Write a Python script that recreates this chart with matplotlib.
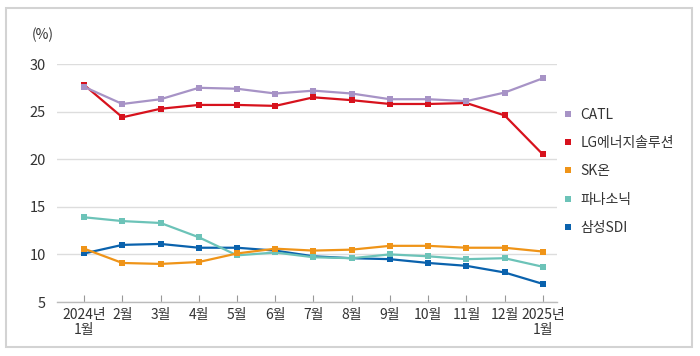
import matplotlib.pyplot as plt
from matplotlib.patches import Rectangle
from matplotlib.lines import Line2D

plt.rcParams['font.family'] = ['Noto Sans CJK KR', 'DejaVu Sans']

months = ['2024년\n1월', '2월', '3월', '4월', '5월', '6월', '7월', '8월',
          '9월', '10월', '11월', '12월', '2025년\n1월']

catl = [27.6, 25.8, 26.3, 27.5, 27.4, 26.9, 27.2, 26.9, 26.3, 26.3, 26.1, 27.0, 28.5]
lg = [27.8, 24.4, 25.3, 25.7, 25.7, 25.6, 26.5, 26.2, 25.8, 25.8, 25.9, 24.6, 20.5]
sk = [10.6, 9.1, 9.0, 9.2, 10.1, 10.6, 10.4, 10.5, 10.9, 10.9, 10.7, 10.7, 10.3]
panasonic = [13.9, 13.5, 13.3, 11.8, 9.9, 10.2, 9.7, 9.6, 10.0, 9.8, 9.5, 9.6, 8.7]
samsung = [10.1, 11.0, 11.1, 10.7, 10.7, 10.4, 9.8, 9.6, 9.5, 9.1, 8.8, 8.1, 6.9]

names = ['CATL', 'LG에너지솔루션', 'SK온', '파나소닉', '삼성SDI']
colors = ['#a793c6', '#d7121d', '#ef9418', '#6cc3b8', '#0a62ad']
series = [catl, lg, sk, panasonic, samsung]

fig = plt.figure(figsize=(7, 3.56), dpi=100)
ax = fig.add_axes([57 / 700, 1 - 302 / 356, 500 / 700, 238 / 356])

x = list(range(len(months)))
# draw bottom series first so CATL ends on top
for vals, c in reversed(list(zip(series, colors))):
    ax.plot(x, vals, color=c, lw=1.6, marker='s', markersize=4.8,
            markeredgewidth=0)

ax.set_ylim(5, 30)
ax.set_xlim(-0.71, 12.37)
ax.set_yticks([5, 10, 15, 20, 25, 30])
ax.set_xticks(x)
ax.set_xticklabels(months, fontsize=10, color='#333333', linespacing=1.15)
ax.tick_params(axis='y', length=0, pad=8, labelsize=10.5, labelcolor='#333333')
ax.tick_params(axis='x', direction='in', length=5, width=0.8, color='#999999', pad=4)
ax.grid(axis='y', color='#dddddd', lw=1)
ax.set_axisbelow(True)
for s in ['top', 'right', 'left']:
    ax.spines[s].set_visible(False)
ax.spines['bottom'].set_color('#bbbbbb')
ax.spines['bottom'].set_linewidth(1)

fig.text(32 / 700, 1 - 35 / 356, '(%)', fontsize=10, color='#333333', va='center')

handles = [Line2D([], [], color=c, marker='s', linestyle='none', markersize=5,
                  markeredgewidth=0) for c in colors]
fig.legend(handles, names, loc='upper left', bbox_to_anchor=(564 / 700, 1 - 108 / 356),
           frameon=False, fontsize=10, labelspacing=1.02, handlelength=0.6,
           handletextpad=0.6, borderaxespad=0, borderpad=0,
           labelcolor='#333333')

fig.patches.append(Rectangle((6 / 700, 1 - 347 / 356), 686 / 700, 339 / 356,
                             transform=fig.transFigure, fill=False,
                             edgecolor='#d3d3d3', lw=1.5))

fig.savefig('out.png', dpi=100)
